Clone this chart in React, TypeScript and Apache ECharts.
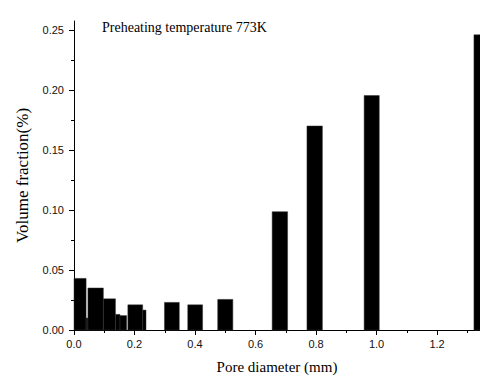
import React, { useEffect, useRef } from "react";
import * as echarts from "echarts";

// Histogram bins: start / end pore diameter (mm) and volume fraction
const binStart = [0.0, 0.04, 0.046, 0.097, 0.137, 0.152, 0.178, 0.227, 0.299, 0.376, 0.475, 0.655, 0.77, 0.959, 1.322];
const binEnd = [0.04, 0.046, 0.097, 0.137, 0.152, 0.174, 0.227, 0.238, 0.348, 0.425, 0.525, 0.706, 0.821, 1.009, 1.372];
const volumeFraction = [0.043, 0.01, 0.035, 0.026, 0.013, 0.012, 0.021, 0.0166, 0.023, 0.021, 0.0255, 0.0986, 0.17, 0.1954, 0.246];

const xTicks = [0, 0.2, 0.4, 0.6, 0.8, 1.0, 1.2];
const yTicks = [0, 0.05, 0.1, 0.15, 0.2, 0.25];

const annotation = "Preheating temperature 773K";
const xTitle = "Pore diameter (mm)";
const yTitle = "Volume fraction(%)";

export default function App() {
  const ref = useRef<HTMLDivElement>(null);
  useEffect(() => {
    if (!ref.current) return;
    const chart = echarts.init(ref.current, undefined, { renderer: "svg" });
    const data = binStart.map((s, i) => [s, binEnd[i], volumeFraction[i]]);
    const sans = "Liberation Sans, Arial, sans-serif";
    const serif = "Liberation Serif, Times New Roman, serif";
    chart.setOption({
      animation: false,
      grid: { left: 74, right: 0, top: 21, bottom: 48, containLabel: false },
      xAxis: {
        type: "value",
        min: 0,
        max: 1.342,
        interval: 0.2,
        name: xTitle,
        nameLocation: "middle",
        nameGap: 29,
        nameTextStyle: { fontFamily: serif, fontSize: 15, color: "#000" },
        axisLine: { show: true, lineStyle: { color: "#000", width: 1 } },
        axisTick: { show: true, length: 5, lineStyle: { color: "#000" }, customValues: xTicks },
        minorTick: { show: true, splitNumber: 2, length: 3, lineStyle: { color: "#000" } },
        axisLabel: {
          fontFamily: sans,
          fontSize: 11,
          color: "#111",
          margin: 8,
          customValues: xTicks,
          formatter: (v: number) => (xTicks.some((t) => Math.abs(t - v) < 1e-6) ? v.toFixed(1) : ""),
        },
        splitLine: { show: false },
      },
      yAxis: {
        type: "value",
        min: 0,
        max: 0.2575,
        interval: 0.05,
        name: yTitle,
        nameLocation: "middle",
        nameGap: 43,
        nameTextStyle: { fontFamily: serif, fontSize: 17, color: "#000" },
        axisLine: { show: true, lineStyle: { color: "#000", width: 1 } },
        axisTick: { show: true, length: 5, lineStyle: { color: "#000" }, customValues: yTicks },
        minorTick: { show: true, splitNumber: 2, length: 3, lineStyle: { color: "#000" } },
        axisLabel: {
          fontFamily: sans,
          fontSize: 11,
          color: "#111",
          margin: 10,
          customValues: yTicks,
          formatter: (v: number) => (yTicks.some((t) => Math.abs(t - v) < 1e-6) ? v.toFixed(2) : ""),
        },
        splitLine: { show: false },
      },
      graphic: [
        {
          type: "text",
          left: 102,
          top: 20,
          style: { text: annotation, font: `14px ${serif}`, fill: "#000" },
        },
      ],
      series: [
        {
          type: "custom",
          data,
          encode: { x: [0, 1], y: 2 },
          renderItem: (_params: any, api: any) => {
            const p0 = api.coord([api.value(0), api.value(2)]);
            const p1 = api.coord([api.value(1), 0]);
            return {
              type: "rect",
              shape: { x: p0[0], y: p0[1], width: p1[0] - p0[0], height: p1[1] - p0[1] },
              style: { fill: "#000", stroke: "#333", lineWidth: 0.5 },
            };
          },
        },
      ],
    });
    return () => chart.dispose();
  }, []);
  return <div ref={ref} style={{ position: "absolute", left: 0, top: 0, width: 480, height: 379 }} />;
}
